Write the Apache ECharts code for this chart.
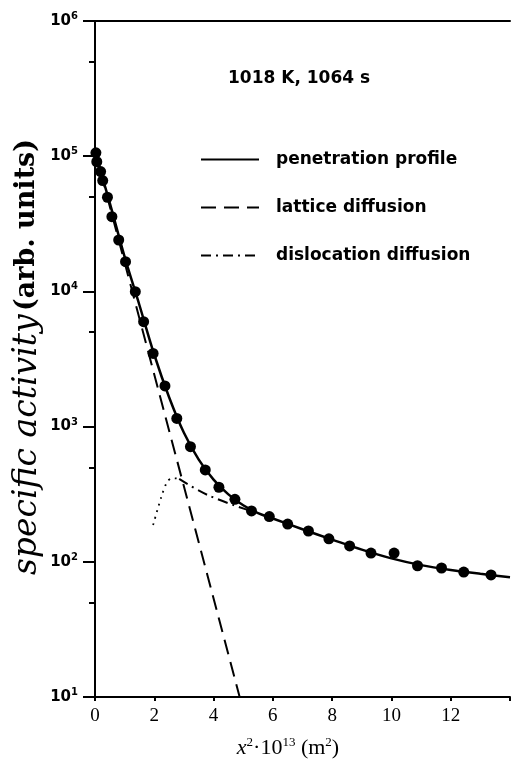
<!DOCTYPE html>
<html><head><meta charset="utf-8">
<script src="https://cdn.jsdelivr.net/npm/echarts@6/dist/echarts.min.js"></script>
<style>html,body{margin:0;padding:0;background:#fff}#c{width:513px;height:767px}</style>
</head><body><div id="c"></div>
<script>
// measured points
const pointX = [0.03,0.06,0.19,0.26,0.42,0.57,0.80,1.03,1.36,1.64,1.96,2.36,2.76,3.22,3.72,4.18,4.72,5.28,5.88,6.50,7.20,7.89,8.59,9.31,10.09,10.88,11.69,12.44,13.36];
const pointY = [106000,91000,77000,66000,49700,35700,24000,16600,9950,5970,3480,2000,1150,710,478,356,290,238,216,190,169,148,131,116,116,93.5,90,84,80];
// penetration profile (fit curve)
const profileX = [0,0.5,1,1.5,2,2.5,3,3.5,4,4.5,5,5.5,6,7,8,9,10,11,12,13,14];
const profileY = [107000,45000,18000,7900,3400,1650,900,570,405,315,262,229,209,174,146,123,106,94.5,87,81.5,77];
// lattice diffusion
const latticeX = [0,4.88];
const latticeY = [110000,10];
// dislocation diffusion (dash-dot part)
const dislocX = [2.84,3.8,5.3];
const dislocY = [410,312,236];
// dislocation diffusion (dotted start)
const dislocTailX = [1.96,2.19,2.32,2.49,2.65,2.84];
const dislocTailY = [187,279,340,403,415,410];
const minorTickValues = [50,500,5000,50000,500000];
const seriesNames = ['penetration profile','lattice diffusion','dislocation diffusion'];
const titleText = '1018 K, 1064 s';

const zip = (a,b) => a.map((v,i)=>[v,b[i]]);
const chart = echarts.init(document.getElementById('c'), null, {renderer:'canvas'});
const sansB = {fontFamily:'DejaVu Sans', fontWeight:'bold', color:'#000'};
chart.setOption({
  animation:false,
  backgroundColor:'#fff',
  title:{text:titleText, left:228, top:70, padding:0, textStyle:Object.assign({fontSize:17}, sansB)},
  legend:{data:seriesNames, orient:'vertical', left:200, top:151, padding:0, itemWidth:58, itemHeight:14, itemGap:31,
    selectedMode:false, itemStyle:{opacity:0},
    textStyle:Object.assign({fontSize:17, padding:[0,0,0,12]}, sansB)},
  grid:{left:95, top:21, width:422, height:676},
  xAxis:[{type:'value', min:0, max:14, interval:2,
    axisLine:{lineStyle:{color:'#000', width:2}},
    axisTick:{length:4, lineStyle:{color:'#000', width:2}},
    axisLabel:{color:'#000', fontFamily:'Liberation Serif', fontSize:19, margin:10, formatter:v=> v>=14?'':String(v)},
    splitLine:{show:false}},
    {type:'value', position:'top', min:0, max:14, axisLine:{show:true, lineStyle:{color:'#000', width:2}},
     axisTick:{show:false}, axisLabel:{show:false}, splitLine:{show:false}}],
  yAxis:[{type:'log', logBase:10, min:10, max:1000000,
    axisLine:{show:true, lineStyle:{color:'#000', width:2}},
    axisTick:{show:true, length:12, lineStyle:{color:'#000', width:2}},
    axisLabel:{margin:17, formatter:v=>'{b|10}{s|'+Math.round(Math.log10(v))+'}',
      rich:{b:Object.assign({fontSize:15}, sansB), s:Object.assign({fontSize:10, padding:[0,0,9,0]}, sansB)}},
    splitLine:{show:false}},
    {type:'log', logBase:10, min:10, max:1000000, position:'left',
    axisLine:{show:false},
    axisTick:{show:true, length:6, customValues:minorTickValues, lineStyle:{color:'#000', width:2}},
    axisLabel:{show:false}, splitLine:{show:false}}],
  series:[
    {name:seriesNames[0], type:'line', data:zip(profileX,profileY), smooth:0.35, symbol:'none',
      lineStyle:{color:'#000', width:2.5}, itemStyle:{color:'#000'}, z:3},
    {name:seriesNames[1], type:'line', data:zip(latticeX,latticeY), symbol:'none',
      lineStyle:{color:'#000', width:2, type:[15,8]}, itemStyle:{color:'#000'}, z:2},
    {name:seriesNames[2], type:'line', data:zip(dislocX,dislocY), smooth:0.4, symbol:'none',
      lineStyle:{color:'#000', width:2, type:[10,5,2,5]}, itemStyle:{color:'#000'}, z:2},
    {name:'tail', type:'line', data:zip(dislocTailX,dislocTailY), smooth:0.5, symbol:'none',
      lineStyle:{color:'#000', width:1.8, type:[1.8,5]}, z:2},
    {name:'points', type:'scatter', data:zip(pointX,pointY), symbol:'circle', symbolSize:11,
      itemStyle:{color:'#000', opacity:1}, z:5}
  ],
  graphic:[
    {type:'text', x:27, y:357, rotation:Math.PI/2, style:{
      text:'{i|specific activity} {r|(arb. units)}', align:'center', verticalAlign:'middle',
      rich:{i:{fontFamily:'DejaVu Serif', fontStyle:'italic', fontSize:33, fill:'#000'},
            r:{fontFamily:'DejaVu Serif', fontWeight:'bold', fontSize:27, fill:'#000'}}}},
    {type:'text', x:288, y:748, style:{
      text:'{i|x}{s|2}{r|·10}{s|13}{r| (m}{s|2}{r|)}', align:'center', verticalAlign:'middle',
      rich:{i:{fontFamily:'Liberation Serif', fontStyle:'italic', fontSize:22, fill:'#000'},
            r:{fontFamily:'Liberation Serif', fontSize:22, fill:'#000'},
            s:{fontFamily:'Liberation Serif', fontSize:13, fill:'#000', padding:[0,0,10,0]}}}}
  ]
});
</script></body></html>
